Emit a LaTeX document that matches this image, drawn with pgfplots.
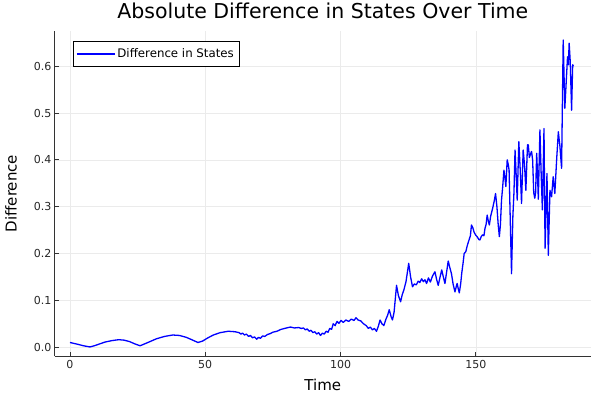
\documentclass[border=0pt]{standalone}
\usepackage{pgfplots}
\pgfplotsset{compat=1.18}
\usepackage{fontspec}
\setmainfont{DejaVu Sans}
\begin{document}
\begin{tikzpicture}
\useasboundingbox (0,0) rectangle (600pt,400pt);
\begin{axis}[
  at={(54.8pt,43.6pt)}, anchor=south west,
  scale only axis, width=536pt, height=325.8pt,
  xmin=-5.6, xmax=192.5, ymin=-0.0197, ymax=0.676,
  axis lines=left,
  axis line style={-, line width=0.9pt, black!80},
  tick align=inside,
  major tick length=4pt,
  tick style={line width=0.8pt, black!80},
  grid=major,
  grid style={black!8, line width=0.5pt},
  xtick={0,50,100,150},
  ytick={0,0.1,0.2,0.3,0.4,0.5,0.6},
  /pgf/number format/assume math mode=true,
  yticklabel style={/pgf/number format/fixed, /pgf/number format/precision=1, /pgf/number format/fixed zerofill},
  tick label style={font=\fontsize{11}{13}\selectfont, black!85},
  xlabel={Time},
  ylabel={Difference},
  xlabel style={at={(axis description cs:0.5,-0.0878)}, anchor=center, font=\fontsize{15}{18}\selectfont},
  ylabel style={at={(axis description cs:-0.0815,0.5)}, anchor=center, font=\fontsize{15}{18}\selectfont},
  title={Absolute Difference in States Over Time},
  title style={at={(axis description cs:0.5,1.019)}, anchor=base, font=\fontsize{20.5}{24}\selectfont},
  legend style={at={(axis description cs:0.0336,0.968)}, anchor=north west, font=\fontsize{11.8}{14}\selectfont, draw=black, line width=0.6pt, inner xsep=3pt, inner ysep=5.5pt},
  legend cell align=left,
  legend image code/.code={\draw[#1] (0pt,0pt) -- (38pt,0pt);},
]
\addplot[blue, line width=1.3pt, line join=round] coordinates {
(0,0.010) (1.5,0.008) (3,0.006) (5,0.003) (7.4,0.0005) (9,0.003) (11,0.007) (13,0.011) (15.5,0.014) (18,0.016)
(20,0.015) (22,0.012) (24,0.007) (25.9,0.003) (28,0.008) (30,0.013) (32,0.018) (35,0.023) (38,0.026) (40.5,0.025)
(43,0.021) (45,0.016) (47.3,0.010) (49,0.013) (51,0.020) (53,0.026) (55.5,0.031) (58.5,0.034) (61,0.033) (62.5,0.031)
(63.2,0.028) (63.8,0.030) (64.5,0.026) (65.2,0.028) (66,0.023) (66.7,0.025) (67.5,0.020) (68.2,0.022) (69,0.017) (69.7,0.021)
(70.4,0.019) (71.2,0.024) (72,0.023) (73,0.027) (74,0.029) (75,0.032) (76.5,0.034) (78,0.038) (80,0.041) (81.5,0.043)
(83,0.041) (84.5,0.042) (85.5,0.040) (86.3,0.041) (87,0.037) (87.7,0.039) (88.4,0.034) (89.1,0.036) (89.8,0.031) (90.5,0.033)
(91.2,0.028) (91.9,0.031) (92.6,0.025) (93.3,0.030) (94,0.028) (94.7,0.034) (95.4,0.032) (96,0.040) (96.7,0.038) (97.3,0.050)
(98,0.046) (98.7,0.055) (99.4,0.051) (100.2,0.057) (101,0.053) (102,0.058) (103,0.055) (104,0.060) (105,0.057) (105.7,0.063)
(106.5,0.058) (107.5,0.056) (108.5,0.050) (109.5,0.046) (110.3,0.040) (111,0.043) (111.8,0.037) (112.5,0.040) (113.3,0.034) (114,0.045)
(114.6,0.058) (115.3,0.050) (116,0.046) (116.8,0.060) (117.4,0.068) (118,0.080) (118.7,0.065) (119.2,0.058) (119.8,0.075) (120.7,0.132)
(121.4,0.110) (122.2,0.097) (122.8,0.112) (123.4,0.122) (124.2,0.140) (125.2,0.179) (125.9,0.150) (126.6,0.129) (127.3,0.135) (128,0.133)
(128.7,0.141) (129.3,0.138) (130,0.146) (130.6,0.140) (131.2,0.144) (131.8,0.136) (132.5,0.148) (133.2,0.139) (134,0.152) (134.9,0.161)
(135.5,0.145) (136.1,0.132) (136.8,0.150) (137.4,0.165) (138,0.150) (138.6,0.136) (139.2,0.160) (139.8,0.184) (140.4,0.170) (141,0.157)
(141.6,0.135) (142.3,0.118) (142.8,0.130) (143.1,0.136) (143.5,0.125) (143.9,0.116) (144.4,0.135) (144.8,0.158) (145.3,0.180) (145.7,0.200)
(146.3,0.204) (146.9,0.218) (147.5,0.229) (148,0.238) (148.4,0.261) (148.9,0.255) (149.4,0.245) (150,0.239) (150.6,0.235) (151.1,0.230)
(151.5,0.229) (152,0.236) (152.5,0.240) (153,0.238) (153.4,0.254) (153.8,0.262) (154.2,0.282) (154.6,0.270) (155,0.261) (155.5,0.280)
(156.2,0.296) (156.8,0.312) (157.3,0.328) (157.8,0.300) (158.3,0.260) (158.7,0.236) (159.1,0.262) (159.5,0.314) (159.9,0.340) (160.4,0.378)
(160.8,0.360) (161.1,0.343) (161.6,0.400) (162,0.390) (162.3,0.378) (162.7,0.280) (163.2,0.157) (163.7,0.280) (164.1,0.330) (164.5,0.421)
(164.9,0.370) (165.3,0.314) (165.9,0.439) (166.4,0.380) (166.9,0.307) (167.5,0.421) (168,0.390) (168.5,0.335) (169.1,0.432) (169.4,0.432)
(169.8,0.405) (170.2,0.412) (170.6,0.418) (171,0.400) (171.4,0.330) (171.8,0.318) (172.1,0.330) (172.5,0.414) (172.8,0.370) (173.1,0.316)
(173.7,0.464) (174.1,0.380) (174.6,0.293) (175.2,0.467) (175.6,0.211) (176.3,0.371) (176.8,0.196) (177.4,0.335) (178,0.321) (178.6,0.364)
(179.2,0.328) (179.9,0.403) (180.5,0.460) (181.1,0.428) (181.7,0.382) (182.3,0.656) (182.9,0.510) (183.9,0.620) (184.2,0.603) (184.5,0.649)
(184.9,0.610) (185.4,0.506) (185.8,0.603) (186.1,0.600)
};
\addlegendentry{Difference in States}
\end{axis}
\end{tikzpicture}
\end{document}
